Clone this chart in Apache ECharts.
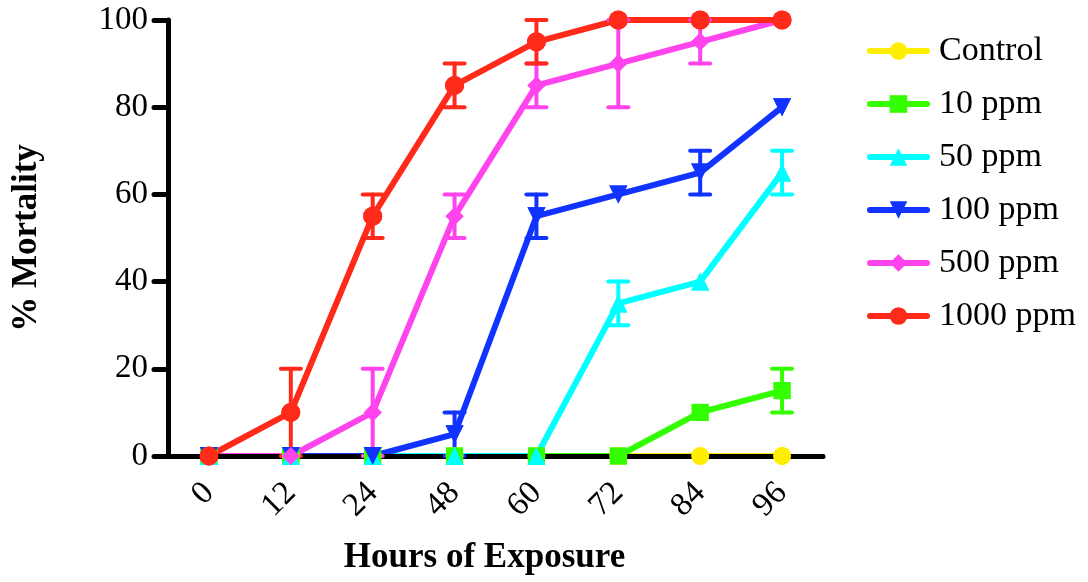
<!DOCTYPE html>
<html><head><meta charset="utf-8">
<script src="https://cdn.jsdelivr.net/npm/echarts@6/dist/echarts.min.js"></script>
<style>html,body{margin:0;padding:0;background:#fff}#c{width:1088px;height:582px}</style>
</head><body><div id="c"></div>
<script>
const hours = ['0','12','24','48','60','72','84','96'];
const yTicks = [0,20,40,60,80,100];
const seriesNames = ['Control','10 ppm','50 ppm','100 ppm','500 ppm','1000 ppm'];
const control  = [0,0,0,0,0,0,0,0];
const ppm10    = [0,0,0,0,0,0,10,15];
const ppm50    = [0,0,0,0,0,35,40,65];
const ppm100   = [0,0,0,5,55,60,65,80];
const ppm500   = [0,0,10,55,85,90,95,100];
const ppm1000  = [0,10,55,85,95,100,100,100];
const errControl = [0,0,0,0,0,0,0,0];
const err10    = [0,0,0,0,0,0,0,5];
const err50    = [0,0,0,0,0,5,0,5];
const err100   = [0,0,0,5,5,0,5,0];
const err500   = [0,0,10,5,5,10,5,0];
const err1000  = [0,10,5,5,5,0,0,0];

const values = [control, ppm10, ppm50, ppm100, ppm500, ppm1000];
const errors = [errControl, err10, err50, err100, err500, err1000];
const colors = ['#FFEE00','#33FF00','#00FFFF','#1133FF','#FF44EE','#FF2A1A'];
const symbols = ['circle','rect','triangle','triangle','diamond','circle'];
const rotates = [0,0,0,180,0,0];
const sizes = [18,17,18,18,18,19];
const FONT = '"Liberation Serif","Times New Roman",serif';

const series = [];
// lines (below the axes)
values.forEach((vals, k) => {
  series.push({
    type: 'line',
    name: seriesNames[k],
    z: 2,
    data: vals,
    symbol: symbols[k],
    symbolRotate: rotates[k],
    symbolSize: sizes[k],
    showAllSymbol: true,
    color: colors[k],
    lineStyle: {width: 6, color: colors[k]},
    itemStyle: {color: colors[k]}
  });
});
// error bars and markers (above the axes)
values.forEach((vals, k) => {
  series.push({
    type: 'custom',
    name: seriesNames[k] + ' err',
    z: 5,
    silent: true,
    data: vals.map((v, i) => [i, v, errors[k][i]]),
    encode: {x: 0, y: 1},
    renderItem: function(params, api) {
      const e = api.value(2);
      if (!e) return null;
      const x = api.value(0), y = api.value(1);
      const hi = api.coord([x, y + e]);
      const lo = api.coord([x, y - e]);
      const hw = 10;
      const style = {stroke: colors[k], lineWidth: 4, lineCap: 'round'};
      return {type: 'group', children: [
        {type: 'line', shape: {x1: hi[0], y1: hi[1], x2: lo[0], y2: lo[1]}, style: style},
        {type: 'line', shape: {x1: hi[0]-hw, y1: hi[1], x2: hi[0]+hw, y2: hi[1]}, style: style},
        {type: 'line', shape: {x1: lo[0]-hw, y1: lo[1], x2: lo[0]+hw, y2: lo[1]}, style: style}
      ]};
    }
  });
  series.push({
    type: 'scatter',
    name: seriesNames[k] + ' pts',
    z: 5,
    data: vals.map((v, i) => [i, v]),
    symbol: symbols[k],
    symbolRotate: rotates[k],
    symbolSize: sizes[k],
    itemStyle: {color: colors[k], opacity: 1}
  });
});

const chart = echarts.init(document.getElementById('c'));
chart.setOption({
  animation: false,
  backgroundColor: '#fff',
  grid: {left: 168, right: 265, top: 20, bottom: 126, containLabel: false, outerBoundsMode: 'none'},
  legend: {
    data: seriesNames,
    orient: 'vertical',
    left: 862, top: 29,
    itemWidth: 57, itemHeight: 22, itemGap: 19,
    lineStyle: {width: 6, cap: 'round'},
    textStyle: {fontFamily: FONT, fontSize: 34, lineHeight: 34, color: '#000', padding: [0,0,0,7]}
  },
  xAxis: {
    type: 'category',
    z: 3,
    data: hours,
    boundaryGap: true,
    name: 'Hours of Exposure',
    nameLocation: 'middle',
    nameGap: 84,
    nameTextStyle: {fontFamily: FONT, fontSize: 35, fontWeight: 'bold', color: '#000', padding: [0, 22, 0, 0]},
    axisLine: {lineStyle: {color: '#000', width: 5}},
    axisTick: {alignWithLabel: true, length: 9, lineStyle: {color: '#000', width: 5, cap: 'round'}},
    axisLabel: {rotate: 45, margin: 32, fontFamily: FONT, fontSize: 33, color: '#000'},
    splitLine: {show: false}
  },
  yAxis: {
    type: 'value',
    z: 3,
    min: yTicks[0], max: yTicks[yTicks.length-1], interval: 20,
    name: '% Mortality',
    nameLocation: 'middle',
    nameGap: 124,
    nameTextStyle: {fontFamily: FONT, fontSize: 35, fontWeight: 'bold', color: '#000'},
    axisLine: {show: true, lineStyle: {color: '#000', width: 5}},
    axisTick: {show: true, length: 14, lineStyle: {color: '#000', width: 5, cap: 'round'}},
    axisLabel: {margin: 20, fontFamily: FONT, fontSize: 33, color: '#000'},
    splitLine: {show: false}
  },
  series: series
});
</script></body></html>
